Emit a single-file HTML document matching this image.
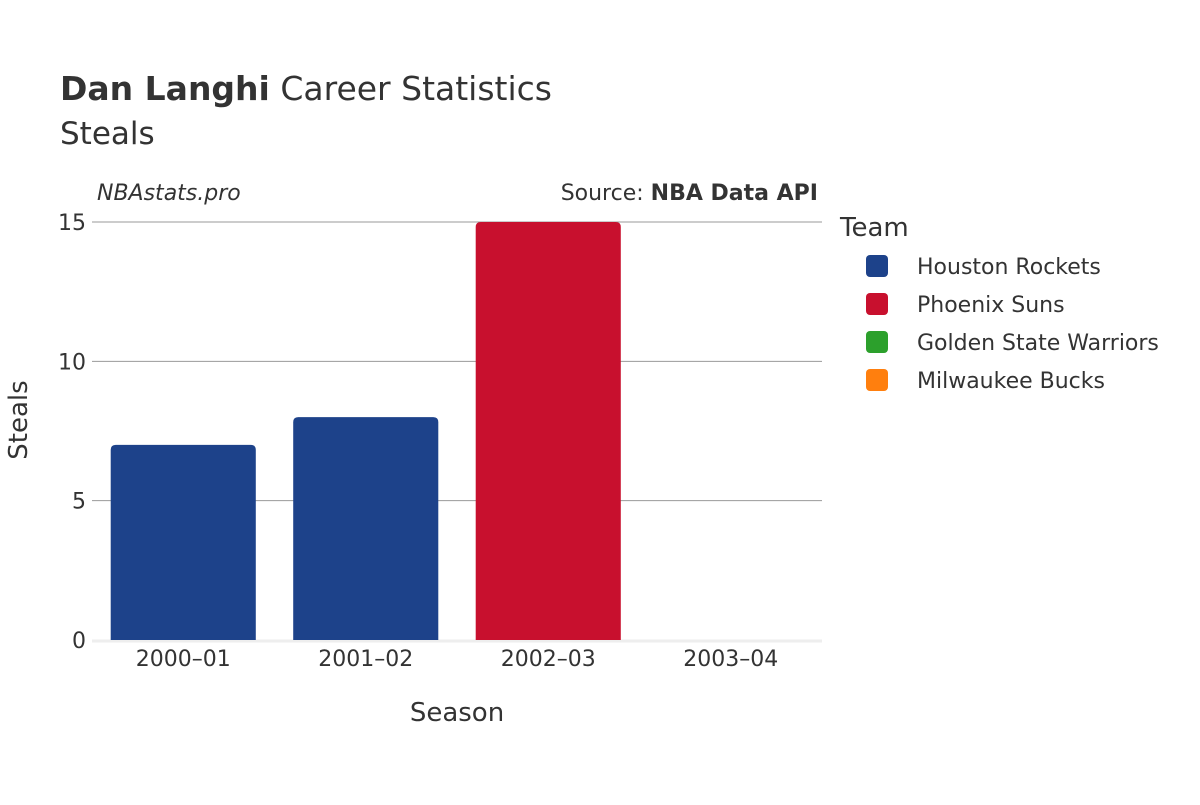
<!DOCTYPE html>
<html><head><meta charset="utf-8"><style>
body{margin:0;background:#fff;}
svg text{font-family:"DejaVu Sans","Liberation Sans",sans-serif;fill:#333;}
</style></head><body>
<svg id="chart" width="1200" height="800" viewBox="0 0 1200 800">
<text x="60" y="100" font-size="33"><tspan font-weight="bold">Dan Langhi</tspan> Career Statistics</text>
<text x="60" y="144" font-size="31">Steals</text>
<text x="97" y="200" font-size="22" font-style="italic">NBAstats.pro</text>
<text x="818" y="200" font-size="22" text-anchor="end">Source: <tspan font-weight="bold">NBA Data API</tspan></text>
<g id="grid"></g>
<g id="bars"></g>
<g id="xticks"></g>
<text x="457" y="721" font-size="26" text-anchor="middle">Season</text>
<text transform="translate(27,420) rotate(-90)" font-size="26" text-anchor="middle">Steals</text>
<text x="840" y="236" font-size="26">Team</text>
<g id="legend"></g>
</svg>
<script>
const seasons = ["2000–01","2001–02","2002–03","2003–04"];
const steals = [7,8,15,0];
const barTeams = ["Houston Rockets","Houston Rockets","Phoenix Suns","Milwaukee Bucks"];
const yTicks = [0,5,10,15];
const teams = ["Houston Rockets","Phoenix Suns","Golden State Warriors","Milwaukee Bucks"];
const teamColors = ["#1d428a","#c8102e","#2ca02c","#ff7f0e"];

const NS="http://www.w3.org/2000/svg";
const x0=92,x1=822,yZero=640,yTop=222,yMax=15;
const band=(x1-x0)/seasons.length;
const y=v=>yZero-(v/yMax)*(yZero-yTop);
const xc=i=>x0+band*(i+0.5);
function mk(tag,attrs,parent){const e=document.createElementNS(NS,tag);for(const k in attrs)e.setAttribute(k,attrs[k]);parent.appendChild(e);return e;}
const grid=document.getElementById('grid');
yTicks.forEach(t=>{
  if(t>0){const l=mk('line',{x1:x0,x2:x1,y1:y(t),y2:y(t),stroke:'#999','stroke-width':1},grid);
  
  }
  const tx=mk('text',{x:86,y:y(t)+8,'font-size':22,'text-anchor':'end'},grid);
  tx.textContent=t;
  
  
});
const zl=mk('line',{x1:x0,x2:x1,y1:yZero+1,y2:yZero+1,stroke:'#eee','stroke-width':3},grid);


const bars=document.getElementById('bars');
const bw=band*0.795;
seasons.forEach((s,i)=>{
  const v=steals[i];
  const col=teamColors[teams.indexOf(barTeams[i])];
  const top=y(v),h=yZero-top,left=xc(i)-bw/2,r=Math.min(5,h/2);
  const d=`M${left},${yZero}V${top+r}Q${left},${top} ${left+r},${top}H${left+bw-r}Q${left+bw},${top} ${left+bw},${top+r}V${yZero}Z`;
  const p=mk('path',{d:d,fill:col},bars);
  
  
  const tx=mk('text',{x:xc(i),y:666,'font-size':22,'text-anchor':'middle'},document.getElementById('xticks'));
  tx.textContent=s;
  
  
});
const lg=document.getElementById('legend');
teams.forEach((t,i)=>{
  const yy=266+i*38;
  const g=mk('g',{},lg);
  
  
  mk('rect',{x:866,y:yy-11,width:22,height:22,rx:4,fill:teamColors[i]},g);
  const tx=mk('text',{x:917,y:yy+8,'font-size':22},g);
  tx.textContent=t;
});
</script>
</body></html>
